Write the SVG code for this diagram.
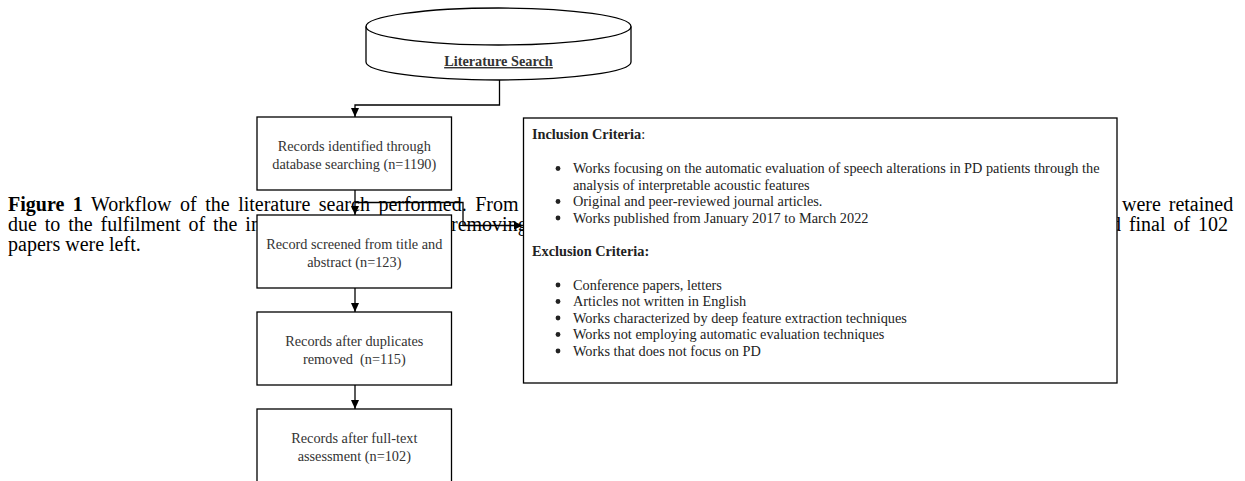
<svg xmlns="http://www.w3.org/2000/svg" width="1245" height="481" viewBox="0 0 1245 481">
<style>
.cap{font-family:"Liberation Serif","Times New Roman",serif;font-size:20px;fill:#000;word-spacing:2.9px}
.b{font-weight:bold}
.box{fill:#fff;stroke:#000;stroke-width:1.3}
.lbl{font-family:"Liberation Serif","Times New Roman",serif;font-size:14.3px;fill:#333;text-anchor:middle}
.crit{font-family:"Liberation Serif","Times New Roman",serif;font-size:14.3px;fill:#222}
.edge{fill:none;stroke:#000;stroke-width:1.3}
.dot{fill:#222}
</style>
<defs>
<marker id="arr" markerWidth="10" markerHeight="10" refX="9" refY="5" orient="auto" markerUnits="userSpaceOnUse">
<path d="M0,1 L9,5 L0,9 Z" fill="#000"/>
</marker>
</defs>
<rect width="1245" height="481" fill="#fff"/>
<g id="caption">
<text class="cap" x="8" y="211" style="word-spacing:3.5px"><tspan class="b">Figure 1</tspan> Workflow of the literature search performed. From</text>
<text class="cap" x="1122" y="211">were retained</text>
<text class="cap" x="8" y="231">due to the fulfilment of the in</text>
<text class="cap" x="451" y="231">removing</text>
<text class="cap" x="1111" y="231">d final of 102</text>
<text class="cap" x="8" y="251" style="word-spacing:0">papers were left.</text>
</g>
<g id="connectors">
<path class="edge" d="M499.5,80 V105 H355 V117" marker-end="url(#arr)"/>
<path class="edge" d="M355,190 V215" marker-end="url(#arr)"/>
<path class="edge" d="M355,202.5 H463 V225.5 H523" marker-end="url(#arr)"/>
<path class="edge" d="M355,288 V312" marker-end="url(#arr)"/>
<path class="edge" d="M355,385 V409" marker-end="url(#arr)"/>
</g>
<g id="literature-search">
<path class="box" d="M366,26.5 A132.5,18.5 0 0,1 631,26.5 V62 A132.5,18 0 0,1 366,62 Z"/>
<path class="edge" d="M366,26.5 A132.5,18.5 0 0,0 631,26.5"/>
<text class="lbl" x="498.5" y="66" font-weight="bold" text-decoration="underline">Literature Search</text>
</g>
<g id="records-identified">
<rect class="box" x="257" y="117" width="194.5" height="73"/>
<text class="lbl" x="354.3" y="151">Records identified through</text>
<text class="lbl" x="354.3" y="169">database searching (n=1190)</text>
</g>
<g id="records-screened">
<rect class="box" x="257" y="215" width="194.5" height="73"/>
<text class="lbl" x="354.3" y="249">Record screened from title and</text>
<text class="lbl" x="354.3" y="267">abstract (n=123)</text>
</g>
<g id="records-dedup">
<rect class="box" x="257" y="312" width="194.5" height="73"/>
<text class="lbl" x="354.3" y="346">Records after duplicates</text>
<text class="lbl" x="354.3" y="364" style="white-space:pre">removed  (n=115)</text>
</g>
<g id="records-fulltext">
<rect class="box" x="257" y="409" width="194.5" height="80"/>
<text class="lbl" x="354.3" y="443">Records after full-text</text>
<text class="lbl" x="354.3" y="461">assessment (n=102)</text>
</g>
<g id="criteria">
<rect class="box" x="523.5" y="118" width="593.5" height="265"/>
<text class="crit" x="532" y="139"><tspan font-weight="bold">Inclusion Criteria</tspan>:</text>
<circle class="dot" cx="558" cy="168.5" r="2.4"/>
<text class="crit" x="573" y="173">Works focusing on the automatic evaluation of speech alterations in PD patients through the</text>
<text class="crit" x="573" y="189.5">analysis of interpretable acoustic features</text>
<circle class="dot" cx="558" cy="201.5" r="2.4"/>
<text class="crit" x="573" y="206">Original and peer-reviewed journal articles.</text>
<circle class="dot" cx="558" cy="218" r="2.4"/>
<text class="crit" x="573" y="222.5">Works published from January 2017 to March 2022</text>
<text class="crit" x="532" y="256" font-weight="bold">Exclusion Criteria:</text>
<circle class="dot" cx="558" cy="285" r="2.4"/>
<text class="crit" x="573" y="289.5">Conference papers, letters</text>
<circle class="dot" cx="558" cy="301.5" r="2.4"/>
<text class="crit" x="573" y="306">Articles not written in English</text>
<circle class="dot" cx="558" cy="318" r="2.4"/>
<text class="crit" x="573" y="322.5">Works characterized by deep feature extraction techniques</text>
<circle class="dot" cx="558" cy="334.5" r="2.4"/>
<text class="crit" x="573" y="339">Works not employing automatic evaluation techniques</text>
<circle class="dot" cx="558" cy="351" r="2.4"/>
<text class="crit" x="573" y="355.5">Works that does not focus on PD</text>
</g>
</svg>
